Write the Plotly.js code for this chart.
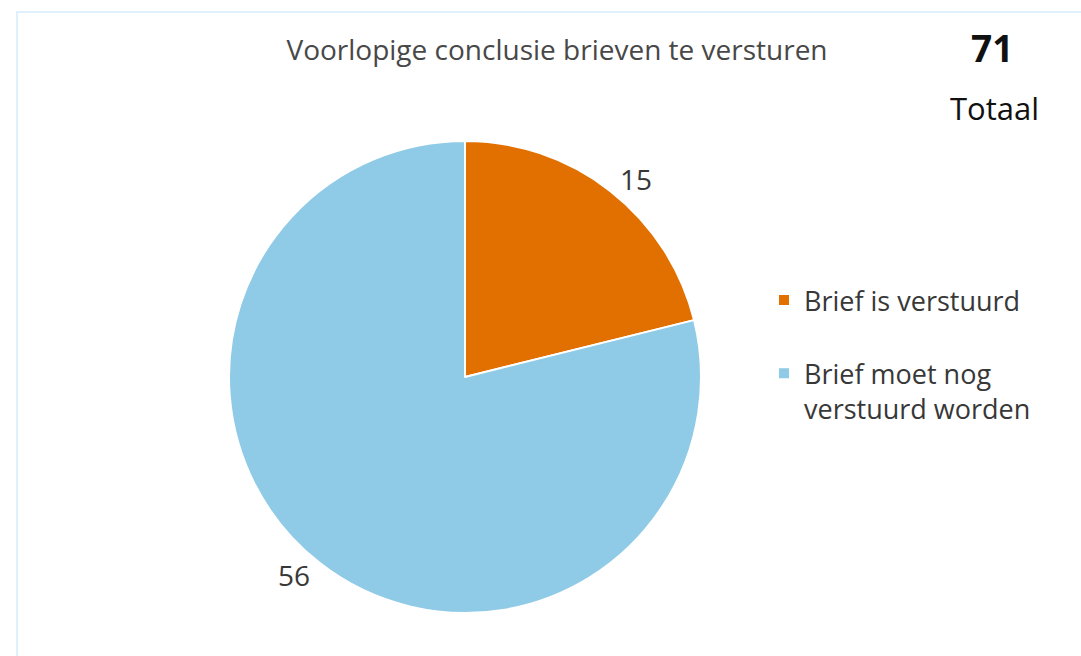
<!DOCTYPE html>
<html>
<head>
<meta charset="utf-8">
<script src="https://cdn.plot.ly/plotly-3.0.1.min.js"></script>
<style>
html,body{margin:0;padding:0;background:#ffffff;}
#chart{width:1081px;height:656px;}
</style>
</head>
<body>
<div id="chart"></div>
<script>
const categories = ["Brief is verstuurd", "Brief moet nog<br>verstuurd worden"];
const values = [15, 56];
const colors = ["#e17000", "#8fcae7"];
const chartTitle = "Voorlopige conclusie brieven te versturen";
const totalLabel = "Totaal";
const total = values.reduce((a, b) => a + b, 0);

const W = 1081, H = 656;
const cx = 465, cy = 377, r = 236;

// extra blank line below single-line entries to reproduce the legend's wide spacing
const legendLabels = categories.map(c => c.indexOf("<br>") === -1 ? c + "<br> " : c);

const trace = {
  type: "pie",
  labels: legendLabels,
  values: values,
  sort: false,
  direction: "clockwise",
  rotation: 0,
  marker: {colors: colors, line: {color: "#ffffff", width: 2}},
  textinfo: "value",
  textposition: "outside",
  outsidetextfont: {family: "Open Sans", size: 28, color: "#383838"},
  hoverinfo: "value",
  domain: {
    x: [(cx - r) / W, (cx + r) / W],
    y: [(H - cy - r) / H, (H - cy + r) / H]
  },
  automargin: false
};

const layout = {
  width: W,
  height: H,
  margin: {l: 0, r: 0, t: 0, b: 0},
  paper_bgcolor: "#ffffff",
  font: {family: "Open Sans", color: "#383838"},
  title: {
    text: chartTitle,
    font: {family: "Open Sans", size: 28, color: "#484848"},
    x: 557 / W, xanchor: "center",
    y: 1 - 50 / H, yanchor: "middle"
  },
  showlegend: true,
  legend: {
    x: 764 / W, xanchor: "left",
    y: 1 - 276 / H, yanchor: "top",
    valign: "top",
    font: {family: "Open Sans", size: 27, color: "#383838"},
    bgcolor: "rgba(0,0,0,0)"
  },
  annotations: [
    {text: "<b>" + total + "</b>", xref: "paper", yref: "paper",
     x: 992 / W, y: 1 - 47 / H, xanchor: "center", yanchor: "middle",
     showarrow: false, font: {family: "Open Sans", size: 37, color: "#111111"}},
    {text: totalLabel, xref: "paper", yref: "paper",
     x: 994 / W, y: 1 - 108 / H, xanchor: "center", yanchor: "middle",
     showarrow: false, font: {family: "Open Sans", size: 31, color: "#111111"}}
  ],
  shapes: [
    {type: "rect", xref: "paper", yref: "paper", layer: "below",
     x0: 17 / W, x1: 1.05, y0: -0.05, y1: 1 - 12 / H,
     line: {color: "#dff0fa", width: 2}, fillcolor: "rgba(0,0,0,0)"}
  ]
};

Plotly.newPlot("chart", [trace], layout, {displayModeBar: false, staticPlot: true});
</script>
</body>
</html>
